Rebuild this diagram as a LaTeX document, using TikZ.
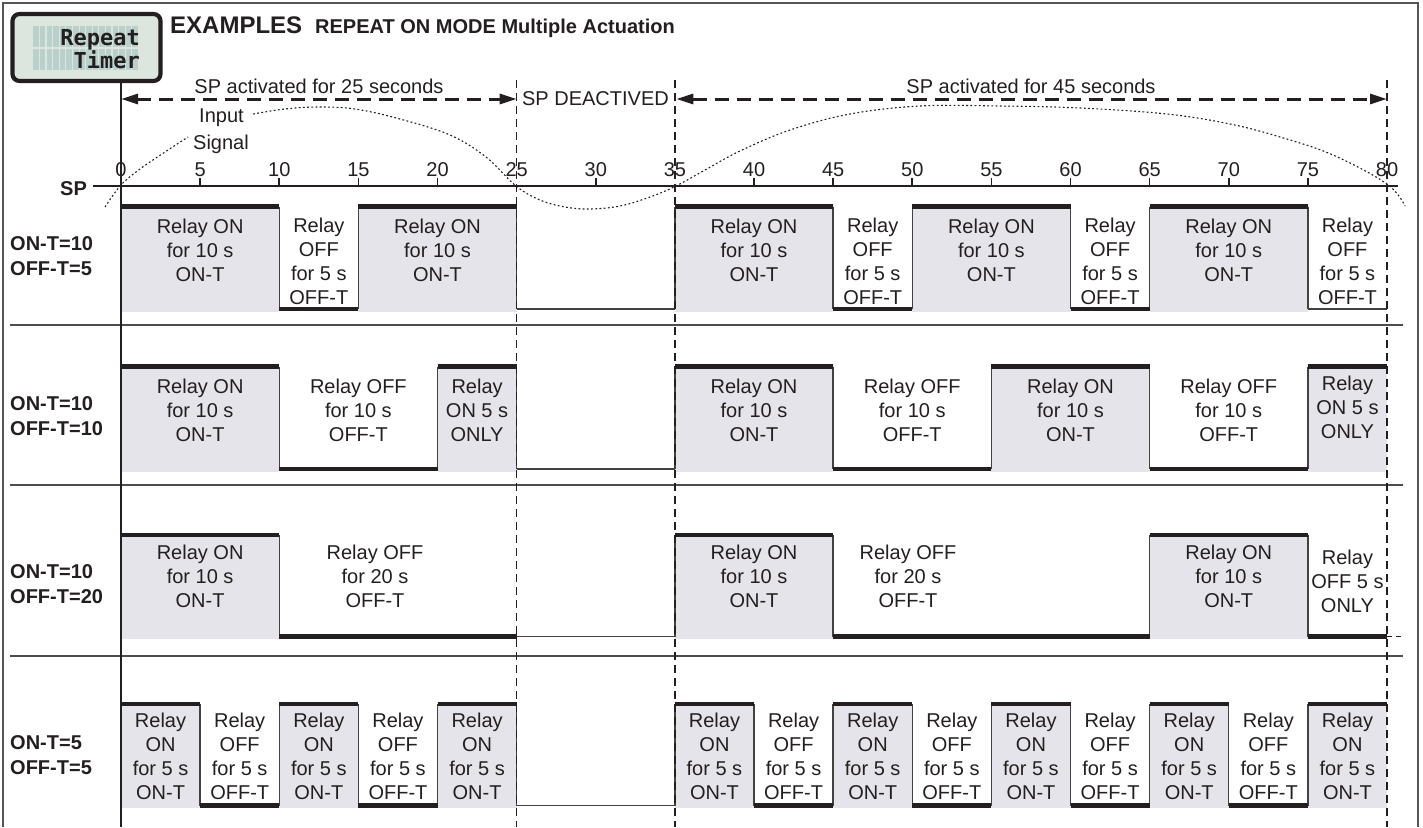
\documentclass[tikz,border=0pt]{standalone}
\usepackage{fontspec}
\setmainfont{Liberation Sans}
\newfontfamily\lcdfont{DejaVu Sans Mono}
\usetikzlibrary{arrows.meta}
\definecolor{onfill}{RGB}{229,228,234}
\definecolor{lcdbg}{RGB}{221,229,223}
\definecolor{lcdcell}{RGB}{186,208,203}
\definecolor{ink}{RGB}{35,31,32}
\definecolor{framec}{RGB}{85,85,85}
\newcommand\X[1]{121+15.825*#1}
\newcommand\son[2]{\fill[onfill] ({\X{#1}},\rH) rectangle ({\X{#2}},{\rL+2.5});}
\newcommand\ton[2]{\draw[thk] ({\X{#1}},\rH) -- ({\X{#2}},\rH);}
\newcommand\toff[2]{\draw[thk] ({\X{#1}},\rL) -- ({\X{#2}},\rL);}
\newcommand\tlow[2]{\draw[thn] ({\X{#1}},\rL) -- ({\X{#2}},\rL);}
\newcommand\tv[1]{\draw[thn] ({\X{#1}},\rH) -- ({\X{#1}},\rL);}
\tikzset{
  txt/.style={font=\fontsize{20}{24}\selectfont, text=ink, inner sep=0pt, align=center},
  txtb/.style={font=\bfseries\fontsize{20}{25}\selectfont, text=ink, inner sep=0pt, align=left},
  thk/.style={line width=4.6pt, draw=ink},
  thn/.style={line width=1.4pt, draw=ink!85},
  sep/.style={line width=1.4pt, draw=ink!80},
  framel/.style={line width=1.4pt, draw=framec},
  mainline/.style={line width=2.6pt, draw=ink},
  axisl/.style={line width=2pt, draw=ink},
  tickl/.style={line width=1.6pt, draw=ink},
  vdash/.style={line width=1.3pt, draw=ink, dash pattern=on 8pt off 5pt},
  harrow/.style={line width=3pt, draw=ink, dash pattern=on 14pt off 8pt,
     {Triangle[length=17pt,width=10pt]}-{Triangle[length=17pt,width=10pt]}},
  sig/.style={line width=1.1pt, draw=ink, dash pattern=on 1.8pt off 2.4pt},
  lcdbox/.style={draw=ink, line width=4.2pt, rounded corners=7pt, fill=lcdbg,
     minimum width=148pt, minimum height=67pt, inner sep=0pt},
  lcdtxt/.style={anchor=base east, inner sep=0pt, font=\lcdfont\bfseries\fontsize{22}{22}\selectfont, text=ink},
}
\begin{document}
\begin{tikzpicture}[x=1pt,y=-1pt]
\useasboundingbox (0,0) rectangle (1423,827);
% frame
\draw[framel] (3,827) -- (3,3) -- (1418,3) -- (1418,827);
% LCD
\node[lcdbox] (lcd) at (86.5,47.5) {};
\foreach \c in {0,...,7}{
  \fill[lcdcell] ({33.3+13.2*\c},26.3) rectangle ({45.3+13.2*\c},47.3);
  \fill[lcdcell] ({33.3+13.2*\c},48.7) rectangle ({45.3+13.2*\c},69.7);
  \draw[lcdbg, line width=0.8pt] ({39.3+13.2*\c},26.3) -- ({39.3+13.2*\c},69.7);
}
\node[lcdtxt] (rep) at (140,45) {Repeat};
\node[lcdtxt] (tim) at (140,68) {Timer};
% titles
\node[anchor=base west, inner sep=0pt, text=ink, font=\bfseries\fontsize{24}{28}\selectfont] (ex) at (170,33) {EXAMPLES};
\node[anchor=base west, inner sep=0pt, text=ink, font=\bfseries\fontsize{20}{24}\selectfont] (mode) at (315,33) {REPEAT ON MODE Multiple Actuation};
% row separators
\draw[sep] (10,325) -- (1403,325);
\draw[sep] (10,485) -- (1403,485);
\draw[sep] (10,656) -- (1403,656);

% ---------- Row 1
\def\rH{206.5}\def\rL{309}
\son{0}{10}\son{15}{25}\son{35}{45}\son{50}{60}\son{65}{75}
\foreach \t in {10,15,25,35,45,50,60,65,75}{\tv{\t}}
\ton{0}{10}\toff{10}{15}\ton{15}{25}\tlow{25}{35}\ton{35}{45}\toff{45}{50}\ton{50}{60}\toff{60}{65}\ton{65}{75}\tlow{75}{80}
% ---------- Row 2
\def\rH{366.5}\def\rL{469}
\son{0}{10}\son{20}{25}\son{35}{45}\son{55}{65}\son{75}{80}
\foreach \t in {10,20,25,35,45,55,65,75}{\tv{\t}}
\ton{0}{10}\toff{10}{20}\ton{20}{25}\tlow{25}{35}\ton{35}{45}\toff{45}{55}\ton{55}{65}\toff{65}{75}\ton{75}{80}
% ---------- Row 3
\def\rH{535}\def\rL{636.5}
\son{0}{10}\son{35}{45}\son{65}{75}
\foreach \t in {10,35,45,65,75}{\tv{\t}}
\ton{0}{10}\toff{10}{25}\tlow{25}{35}\ton{35}{45}\toff{45}{65}\ton{65}{75}\toff{75}{80}
\coordinate (r3end) at ({\X{80}},636.5);
\coordinate (r3tail) at (1402,636.5);
\draw[line width=1.2pt, draw=ink, dash pattern=on 5pt off 4pt] (r3end) -- (r3tail);
% ---------- Row 4
\def\rH{704}\def\rL{805.5}
\foreach \a/\b in {0/5,10/15,20/25,35/40,45/50,55/60,65/70,75/80}{\son{\a}{\b}}
\foreach \t in {5,10,15,20,25,35,40,45,50,55,60,65,70,75}{\tv{\t}}
\foreach \a/\b in {0/5,10/15,20/25,35/40,45/50,55/60,65/70,75/80}{\ton{\a}{\b}}
\foreach \a/\b in {5/10,15/20,40/45,50/55,60/65,70/75}{\toff{\a}{\b}}
\tlow{25}{35}

% main vertical line
\coordinate (vbot) at (121,827);
\draw[mainline] (vbot |- lcd.south) -- (vbot);
% axis
\coordinate (axl) at (93,186);
\coordinate (axr) at (1398,186);
\draw[axisl] (axl) -- (axr);
\foreach \t in {5,10,15,20,30,40,45,50,55,60,65,70,75}{
  \draw[tickl] ({\X{\t}},178) -- ({\X{\t}},186);
}
\foreach \t in {0,5,...,80}{
  \node[txt] (lab\t) at ({\X{\t}},169.5) {\t};
}
\node[anchor=base west, txtb] (sp) at (60,195) {SP};
% dashed verticals
\foreach \t in {25,35,80}{
  \draw[vdash] ({\X{\t}},80) -- ({\X{\t}},827);
}
% arrows
\coordinate (a0) at (121,99);
\coordinate (a25) at ({\X{25}},99);
\coordinate (a35) at ({\X{35}+1.5},99);
\coordinate (a80) at ({\X{80}},99);
\draw[harrow] (a0) -- (a25);
\draw[harrow] (a35) -- (a80);
\node[txt, anchor=base] (t25) at (319,93.5) {SP activated for 25 seconds};
\node[txt, anchor=base] (t45) at (1031,93.5) {SP activated for 45 seconds};
\node[txt] (deact) at (595.5,99) {SP DEACTIVED};
% input signal
\draw[sig] plot[smooth, tension=0.6] coordinates {(105,207) (121,185) (140,169) (165,152) (188,137)};
\draw[sig] plot[smooth, tension=0.6] coordinates {(253,114) (285,109) (318,107) (355,109) (400,119) (450,135) (486,157) (516,186) (540,200) (565,207) (590,209) (620,206) (650,197) (676,186) (705,170) (740,151) (790,130) (850,114) (920,106) (1000,106) (1080,108) (1167,114) (1230,124) (1280,137) (1333,155) (1387,184) (1405,206)};
\node[txt, anchor=base west] (inp) at (199,122) {Input};
\node[txt, anchor=base west] (sgn) at (193,149) {Signal};

% row labels
\node[txtb, anchor=west] (rl1) at (10,256.5) {ON-T=10\\OFF-T=5};
\node[txtb, anchor=west] (rl2) at (10,416) {ON-T=10\\OFF-T=10};
\node[txtb, anchor=west] (rl3) at (10,584.5) {ON-T=10\\OFF-T=20};
\node[txtb, anchor=west] (rl4) at (10,755) {ON-T=5\\OFF-T=5};

% row 1 texts
\foreach \t [count=\i] in {5,20,40,55,70}{
  \node[txt] (ra\i) at ({\X{\t}},250) {Relay ON\\for 10 s\\ON-T};
}
\foreach \t [count=\i] in {12.5,47.5,62.5,77.5}{
  \node[txt] (rb\i) at ({\X{\t}},261) {Relay\\OFF\\for 5 s\\OFF-T};
}
% row 2 texts
\foreach \t [count=\i] in {5,40,60}{
  \node[txt] (sa\i) at ({\X{\t}},410) {Relay ON\\for 10 s\\ON-T};
}
\foreach \t [count=\i] in {15,50,70}{
  \node[txt] (sb\i) at ({\X{\t}},410) {Relay OFF\\for 10 s\\OFF-T};
}
\node[txt] (sc1) at ({\X{22.5}},410) {Relay\\ON 5 s\\ONLY};
\node[txt] (sc2) at ({\X{77.5}},407) {Relay\\ON 5 s\\ONLY};
% row 3 texts
\foreach \t [count=\i] in {5,40,70}{
  \node[txt] (ta\i) at ({\X{\t}},576) {Relay ON\\for 10 s\\ON-T};
}
\node[txt] (tb1) at (375,576) {Relay OFF\\for 20 s\\OFF-T};
\node[txt] (tb2) at (908,576) {Relay OFF\\for 20 s\\OFF-T};
\node[txt] (tc1) at ({\X{77.5}},581) {Relay\\OFF 5 s\\ONLY};
% row 4 texts
\foreach \t [count=\i] in {2.5,12.5,22.5,37.5,47.5,57.5,67.5,77.5}{
  \node[txt] (ua\i) at ({\X{\t}},756) {Relay\\ON\\for 5 s\\ON-T};
}
\foreach \t [count=\i] in {7.5,17.5,42.5,52.5,62.5,72.5}{
  \node[txt] (ub\i) at ({\X{\t}},756) {Relay\\OFF\\for 5 s\\OFF-T};
}
\end{tikzpicture}
\end{document}
